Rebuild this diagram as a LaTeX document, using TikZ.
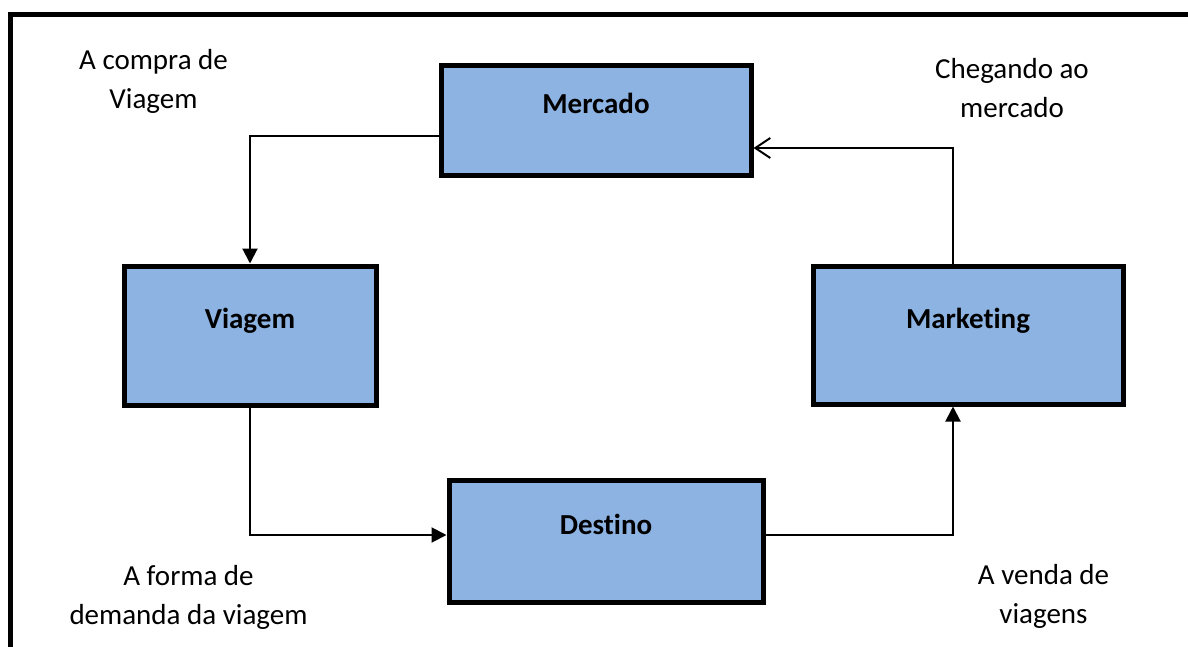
\documentclass[tikz,border=0pt]{standalone}
\usepackage{fontspec}
\setmainfont{Carlito}[Ligatures=NoCommon]
\usetikzlibrary{arrows.meta}
\definecolor{boxblue}{HTML}{8DB3E2}
\begin{document}
\begin{tikzpicture}[x=1pt,y=-1pt,
  stage/.style={draw=black, line width=5pt, fill=boxblue,
    font=\fontsize{29}{34}\selectfont\bfseries,
    text height=10pt, text depth=24pt, inner sep=0pt},
  flow/.style={draw=black, line width=2pt, -{Triangle[length=15pt,width=15pt]}},
  caption/.style={font=\fontsize{29}{39}\selectfont, align=center, inner sep=0pt}]
\useasboundingbox (0,0) rectangle (1188,646);
% outer frame (top and left edges)
\draw[line width=5pt] (10,660) -- (10,14) -- (1200,14);

% the four stages
\node[stage, minimum width=310pt, minimum height=110pt] (mercado)   at (596,120)   {Mercado};
\node[stage, minimum width=252pt, minimum height=139pt] (viagem)    at (250,335.5) {Viagem};
\node[stage, minimum width=310pt, minimum height=138pt] (marketing) at (968,335)   {Marketing};
\node[stage, minimum width=314pt, minimum height=122pt] (destino)   at (606,541)   {Destino};

% captions
\node[caption] (compra)   at (153.5,81)  {A compra de\\Viagem};
\node[caption] (chegando) at (1012,88)   {Chegando ao\\mercado};
\node[caption] (forma)    at (188.5,597) {A forma de\\demanda da viagem};
\node[caption] (venda)    at (1043.5,596) {A venda de\\viagens};

% cycle connectors
\draw[flow] ([yshift=-16pt]mercado.west) -| (viagem.north);
\draw[flow] (viagem.south) |- ([yshift=6pt]destino.west);
\draw[flow] ([yshift=6pt]destino.east) -| ([xshift=-15pt]marketing.south);
\draw[flow, -{Straight Barb[length=15pt,width=20pt]}]
  ([xshift=-15pt]marketing.north) |- ([yshift=-28pt]mercado.east);
\end{tikzpicture}
\end{document}
